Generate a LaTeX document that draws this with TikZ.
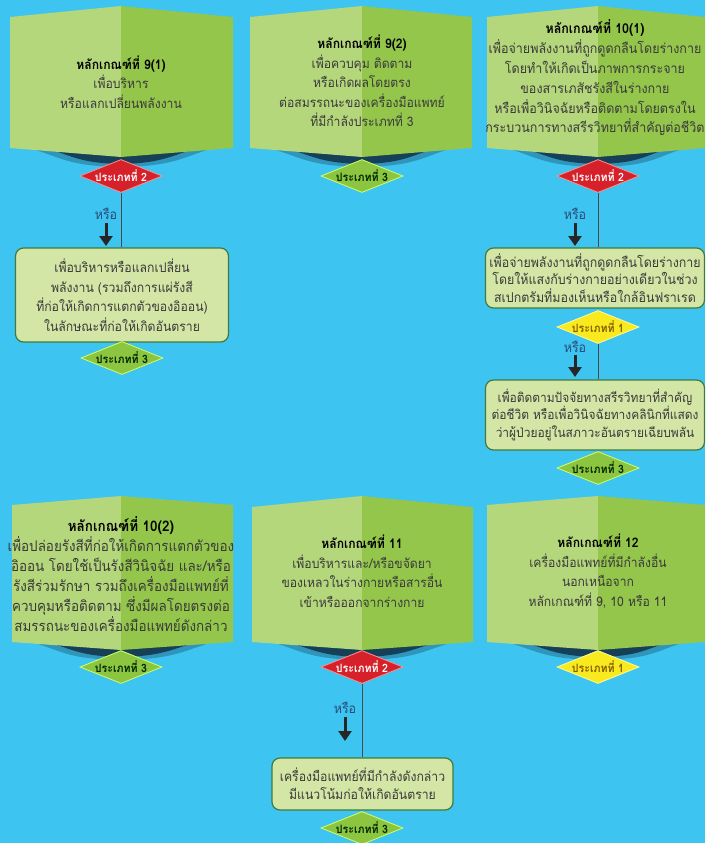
\documentclass[tikz,border=0pt]{standalone}
\usepackage{fontspec}
\setmainfont[Script=Thai,FakeStretch=0.92]{Loma}
\usetikzlibrary{shapes.geometric,arrows.meta,calc}
\definecolor{bgc}{HTML}{3EC4F0}
\definecolor{leftf}{HTML}{B5D77C}
\definecolor{rightf}{HTML}{94C64C}
\definecolor{shadowc}{HTML}{102A40}
\definecolor{redd}{HTML}{D6212B}
\definecolor{greend}{HTML}{8CC540}
\definecolor{yellowd}{HTML}{F8EA1E}
\definecolor{boxfill}{HTML}{D4E6A6}
\definecolor{boxline}{HTML}{3E7B3C}
\definecolor{bodyc}{HTML}{3A3A3A}
\definecolor{orc}{HTML}{2A4A78}
\definecolor{linec}{HTML}{4A4A4A}
\newcommand{\ttl}[1]{{\bfseries\color{black}#1}}
% L M R T Tm B Bm
\newcommand{\mycube}[7]{%
  \fill[shadowc,opacity=.3] (#1+8,#6-3) -- (#2,#7-3) -- (#3-8,#6-3)
     .. controls (#3-50,#6+7) and (#2+60,#7+9) .. (#2,#7+10)
     .. controls (#2-60,#7+9) and (#1+50,#6+7) .. (#1+8,#6-3) -- cycle;
  \fill[shadowc,opacity=.8] (#1+20,#6-3) -- (#2,#7-3) -- (#3-20,#6-3)
     .. controls (#3-60,#6+4) and (#2+50,#7+6) .. (#2,#7+7)
     .. controls (#2-50,#7+6) and (#1+60,#6+4) .. (#1+20,#6-3) -- cycle;
  \fill[leftf] (#1,#4) -- (#2,#5) -- (#2,#7) -- (#1,#6) -- cycle;
  \fill[rightf] (#2,#5) -- (#3,#4) -- (#3,#6) -- (#2,#7) -- cycle;
}
\tikzset{
  cubetext/.style={align=center,text=bodyc,font=\fontsize{13.2}{19.5}\selectfont,inner sep=0pt},
  dmd/.style={diamond,aspect=2.5,minimum width=82pt,minimum height=33pt,inner xsep=-4pt,inner ysep=-2pt,
     font=\fontsize{11.5}{12}\selectfont\bfseries,line width=0.8pt},
  dred/.style={dmd,fill=redd,draw=red!45!white,text=white},
  dgreen/.style={dmd,fill=greend,draw=green!30!yellow!60!white,text=black!85!green},
  dyellow/.style={dmd,fill=yellowd,draw=yellow!40!white,text=black!60!orange!80!yellow},
  rbox/.style={draw=boxline,line width=1.2pt,fill=boxfill,rounded corners=8pt,
     align=center,text=bodyc,inner sep=0pt},
  orlabel/.style={text=orc,font=\fontsize{13.5}{14}\selectfont,inner sep=0pt},
  bigarrow/.style={draw=black!85,line width=3pt,-{Triangle[width=13pt,length=10pt]}},
  conn/.style={draw=linec,line width=1pt}
}
\begin{document}
\begin{tikzpicture}[x=1pt,y=-1pt]
\useasboundingbox (0,0) rectangle (705,843);
\fill[bgc] (0,0) rectangle (705,843);

% ---------- top row cubes ----------
\mycube{10}{121}{233}{17}{6}{148}{157}
\mycube{250}{362}{472}{17}{6}{148}{157}
\mycube{487}{598}{705}{17}{6}{148}{157}

\node[cubetext] (t91) at (121,82) {\ttl{หลักเกณฑ์ที่ 9(1)}\\เพื่อบริหาร\\หรือแลกเปลี่ยนพลังงาน};
\node[cubetext] (t92) at (362,81) {\ttl{หลักเกณฑ์ที่ 9(2)}\\เพื่อควบคุม ติดตาม\\หรือเกิดผลโดยตรง\\ต่อสมรรถนะของเครื่องมือแพทย์\\ที่มีกำลังประเภทที่ 3};
\node[cubetext,font=\fontsize{13.6}{19.8}\selectfont] (t101) at (595,78) {\ttl{หลักเกณฑ์ที่ 10(1)}\\เพื่อจ่ายพลังงานที่ถูกดูดกลืนโดยร่างกาย\\โดยทำให้เกิดเป็นภาพการกระจาย\\ของสารเภสัชรังสีในร่างกาย\\หรือเพื่อวินิจฉัยหรือติดตามโดยตรงใน\\กระบวนการทางสรีรวิทยาที่สำคัญต่อชีวิต};

\node[dred] (d1) at (121,176) {ประเภทที่ 2};
\node[dgreen] (d2) at (362,176) {ประเภทที่ 3};
\node[dred] (d3) at (598,176) {ประเภทที่ 2};

% column 1 below
\node[rbox,minimum width=213pt,minimum height=94pt,font=\fontsize{13.3}{19.5}\selectfont] (bA) at (122,295)
  {เพื่อบริหารหรือแลกเปลี่ยน\\พลังงาน (รวมถึงการแผ่รังสี\\ที่ก่อให้เกิดการแตกตัวของอิออน)\\ในลักษณะที่ก่อให้เกิดอันตราย};
\draw[conn] (d1.south) -- (d1.south |- bA.north);
\node[dgreen] (dA) at (122,358) {ประเภทที่ 3};
\node[orlabel] (or1) at (106,214) {หรือ};
\coordinate (a1s) at (106,223);
\coordinate (a1e) at (106,246);
\draw[bigarrow] (a1s) -- (a1e);

% column 3 below
\node[rbox,minimum width=219pt,minimum height=60pt,font=\fontsize{13.5}{17.5}\selectfont] (bB) at (595,278)
  {เพื่อจ่ายพลังงานที่ถูกดูดกลืนโดยร่างกาย\\โดยให้แสงกับร่างกายอย่างเดียวในช่วง\\สเปกตรัมที่มองเห็นหรือใกล้อินฟราเรด};
\draw[conn] (d3.south) -- (d3.south |- bB.north);
\node[orlabel] (or3) at (575,214) {หรือ};
\coordinate (a3s) at (575,223);
\coordinate (a3e) at (575,246);
\draw[bigarrow] (a3s) -- (a3e);

\node[rbox,minimum width=219pt,minimum height=70pt,font=\fontsize{13}{17.5}\selectfont] (bC) at (595,415)
  {เพื่อติดตามปัจจัยทางสรีรวิทยาที่สำคัญ\\ต่อชีวิต หรือเพื่อวินิจฉัยทางคลินิกที่แสดง\\ว่าผู้ป่วยอยู่ในสภาวะอันตรายเฉียบพลัน};
\node[dyellow] (dB) at (598,327) {ประเภทที่ 1};
\draw[conn] (dB.south) -- (dB.south |- bC.north);
\node[orlabel] (or4) at (575,347) {หรือ};
\coordinate (a4s) at (575,355);
\coordinate (a4e) at (575,377);
\draw[bigarrow] (a4s) -- (a4e);
\node[dgreen] (dC) at (598,468) {ประเภทที่ 3};

% ---------- bottom row cubes ----------
\mycube{12}{121}{233}{505}{496}{642}{650}
\mycube{252}{362}{473}{507}{496}{642}{650}
\mycube{487}{598}{705}{505}{496}{642}{650}

\node[cubetext,font=\fontsize{14.6}{20}\selectfont] (t102) at (121,574) {\ttl{หลักเกณฑ์ที่ 10(2)}\\เพื่อปล่อยรังสีที่ก่อให้เกิดการแตกตัวของ\\อิออน โดยใช้เป็นรังสีวินิจฉัย และ/หรือ\\รังสีร่วมรักษา รวมถึงเครื่องมือแพทย์ที่\\ควบคุมหรือติดตาม ซึ่งมีผลโดยตรงต่อ\\สมรรถนะของเครื่องมือแพทย์ดังกล่าว};
\node[cubetext] (t11) at (362,571) {\ttl{หลักเกณฑ์ที่ 11}\\เพื่อบริหารและ/หรือขจัดยา\\ของเหลวในร่างกายหรือสารอื่น\\เข้าหรือออกจากร่างกาย};
\node[cubetext] (t12) at (598,571) {\ttl{หลักเกณฑ์ที่ 12}\\เครื่องมือแพทย์ที่มีกำลังอื่น\\นอกเหนือจาก\\หลักเกณฑ์ที่ 9, 10 หรือ 11};

\node[dgreen] (d4) at (121,667) {ประเภทที่ 3};
\node[dred] (d5) at (362,667) {ประเภทที่ 2};
\node[dyellow] (d6) at (598,667) {ประเภทที่ 1};

\node[rbox,minimum width=181pt,minimum height=52pt,font=\fontsize{13.3}{18}\selectfont] (bD) at (362.5,784)
  {เครื่องมือแพทย์ที่มีกำลังดังกล่าว\\มีแนวโน้มก่อให้เกิดอันตราย};
\draw[conn] (d5.south) -- (d5.south |- bD.north);
\node[orlabel] (or5) at (345,708) {หรือ};
\coordinate (a5s) at (345,717);
\coordinate (a5e) at (345,741);
\draw[bigarrow] (a5s) -- (a5e);
\node[dgreen] (dD) at (362,828) {ประเภทที่ 3};
\end{tikzpicture}
\end{document}
